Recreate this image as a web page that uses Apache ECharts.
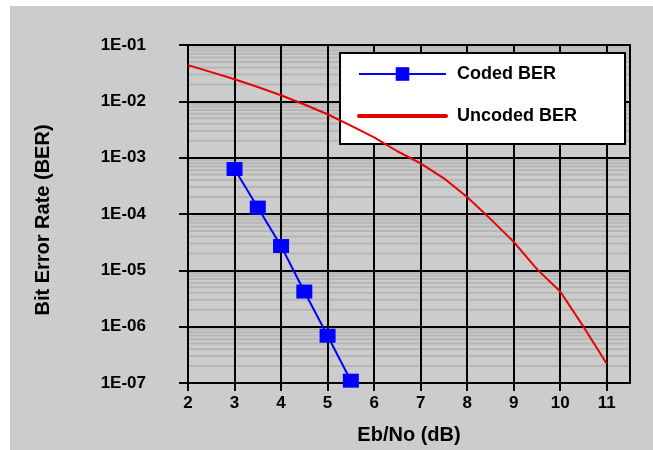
<!DOCTYPE html>
<html>
<head>
<meta charset="utf-8">
<script src="https://cdn.jsdelivr.net/npm/echarts@6/dist/echarts.min.js"></script>
<style>
  html, body { margin: 0; padding: 0; background: #fff; }
  #chart { position: absolute; left: 10px; top: 6px; width: 643px; height: 444px; }
</style>
</head>
<body>
<div id="chart"></div>
<script>
// Eb/No (dB) for each series
var codedX = [3, 3.5, 4, 4.5, 5, 5.5]
var codedBER = [6.3e-4, 1.3e-4, 2.7e-5, 4.2e-6, 6.9e-7, 1.1e-7]

var uncodedX = [2, 2.5, 3, 3.5, 4, 4.5, 5, 5.5, 6, 6.5, 7, 7.5, 8, 8.5, 9, 9.5, 10, 10.5, 11]
var uncodedBER = [0.044, 0.033, 0.0247, 0.018, 0.0128, 0.0088, 0.0059, 0.0037, 0.0023, 0.0013,
  7.9e-4, 4.3e-4, 2.0e-4, 8.2e-5, 3.2e-5, 1.05e-5, 4.2e-6, 1.0e-6, 2.2e-7]

// tick labels
var xTicks = [2, 3, 4, 5, 6, 7, 8, 9, 10, 11]
var decades = [1e-7, 1e-6, 1e-5, 1e-4, 1e-3, 1e-2]
var minorSteps = [2, 3, 4, 5, 6, 7, 8, 9]
var xRange = [2, 11.5]

function pair(xs, ys) {
  return xs.map(function (x, i) { return [x, ys[i]] })
}

// light grey minor grid lines at 2..9 x 10^n, one small series each
var minorSeries = []
decades.forEach(function (d) {
  minorSteps.forEach(function (k) {
    minorSeries.push({
      type: 'line',
      data: [[xRange[0], k * d], [xRange[1], k * d]],
      symbol: 'none',
      silent: true,
      z: -1,
      lineStyle: { color: '#b6b6b6', width: 2 }
    })
  })
})

var chart = echarts.init(document.getElementById('chart'))

var labelFont = { fontFamily: 'Arial, "Liberation Sans", sans-serif', fontWeight: 'bold', color: '#000' }

chart.setOption({
  backgroundColor: '#cccccc',
  animation: false,
  grid: {
    left: 178,
    top: 39,
    right: 23,
    bottom: 64,
    show: true,
    backgroundColor: 'transparent',
    borderColor: '#000',
    borderWidth: 2,
    z: 3
  },
  legend: {
    orient: 'vertical',
    left: 330,
    top: 47,
    padding: [12, 48, 19, 17],
    itemGap: 24,
    itemWidth: 87,
    itemHeight: 17,
    backgroundColor: '#fff',
    borderColor: '#000',
    borderWidth: 2,
    borderRadius: 0,
    textStyle: Object.assign({ fontSize: 18, padding: [0, 0, 0, 6] }, labelFont),
    data: [
      { name: 'Coded BER' },
      { name: 'Uncoded BER', lineStyle: { width: 4, cap: 'round' }, itemStyle: { opacity: 0 } }
    ]
  },
  xAxis: {
    type: 'value',
    min: xRange[0],
    max: xRange[1],
    interval: 1,
    name: 'Eb/No (dB)',
    nameLocation: 'middle',
    nameGap: 42,
    nameTextStyle: Object.assign({ fontSize: 20 }, labelFont),
    axisLine: { show: true, lineStyle: { color: '#000', width: 2 } },
    axisTick: { show: true, length: 8, lineStyle: { color: '#000', width: 2 }, customValues: xTicks },
    axisLabel: Object.assign({ fontSize: 17, margin: 12, customValues: xTicks }, labelFont),
    splitLine: { show: true, lineStyle: { color: '#000', width: 2 } }
  },
  yAxis: {
    type: 'log',
    logBase: 10,
    min: 1e-7,
    max: 0.1,
    name: 'Bit Error Rate (BER)',
    nameLocation: 'middle',
    nameGap: 135,
    nameTextStyle: Object.assign({ fontSize: 20, padding: [0, 12, 0, 0] }, labelFont),
    axisLine: { show: true, lineStyle: { color: '#000', width: 2 } },
    axisTick: { show: true, length: 9, lineStyle: { color: '#000', width: 2 } },
    axisLabel: Object.assign({
      fontSize: 17,
      margin: 42,
      formatter: function (v) {
        var e = Math.round(Math.log10(v))
        return '1E-' + String(-e).padStart(2, '0')
      }
    }, labelFont),
    splitLine: { show: true, lineStyle: { color: '#000', width: 2 } }
  },
  series: minorSeries.concat([
    {
      name: 'Uncoded BER',
      type: 'line',
      data: pair(uncodedX, uncodedBER),
      symbol: 'none',
      color: '#e60000',
      lineStyle: { color: '#e60000', width: 2 },
      z: 4
    },
    {
      name: 'Coded BER',
      type: 'line',
      data: pair(codedX, codedBER),
      symbol: 'rect',
      symbolSize: [16, 14],
      color: '#0000ff',
      itemStyle: { color: '#0000ff' },
      lineStyle: { color: '#0000ff', width: 2 },
      z: 5
    }
  ])
})
</script>
</body>
</html>
